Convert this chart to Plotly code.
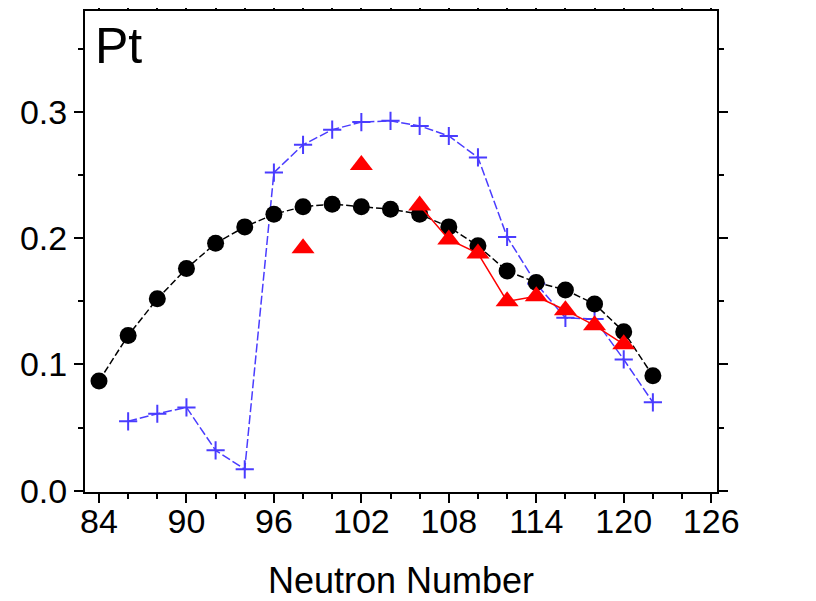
import plotly.graph_objects as go

neutrons = [84, 86, 88, 90, 92, 94, 96, 98, 100, 102, 104, 106, 108, 110, 112, 114, 116, 118, 120, 122]

black_vals = [0.087, 0.123, 0.152, 0.176, 0.196, 0.209, 0.219, 0.225, 0.227, 0.225,
              0.223, 0.219, 0.209, 0.194, 0.174, 0.165, 0.159, 0.148, 0.126, 0.091]

blue_vals = [None, 0.055, 0.061, 0.066, 0.032, 0.017, 0.252, 0.274, 0.286, 0.292,
             0.293, 0.289, 0.281, 0.264, 0.201, 0.164, 0.137, 0.136, 0.104, 0.070]

red_vals = [None, None, None, None, None, None, None, 0.192, None, 0.258,
            None, 0.226, 0.199, 0.188, 0.150, 0.154, 0.143, 0.131, 0.116, None]

x_ticks = [84, 90, 96, 102, 108, 114, 120, 126]
y_ticks = [0.0, 0.1, 0.2, 0.3]
y_tick_text = ["0.0", "0.1", "0.2", "0.3"]

FONT = "Liberation Sans, Arial, sans-serif"

fig = go.Figure()

fig.add_trace(go.Scatter(
    x=neutrons, y=blue_vals, mode="lines+markers",
    line=dict(color="#4a3cff", width=1.5, dash="9px,3px"),
    marker=dict(symbol="cross-thin", size=13, line=dict(color="#4a3cff", width=2)),
    connectgaps=False, showlegend=False))

fig.add_trace(go.Scatter(
    x=neutrons, y=black_vals, mode="lines+markers",
    line=dict(color="black", width=1.5, dash="7px,3px"),
    marker=dict(symbol="circle", size=17, color="black"),
    showlegend=False))

fig.add_trace(go.Scatter(
    x=neutrons, y=red_vals, mode="lines+markers",
    line=dict(color="#ff0000", width=1.5),
    marker=dict(symbol="triangle-up", size=20, color="#ff0000"),
    connectgaps=False, showlegend=False))

axis_common = dict(
    showline=True, linecolor="black", linewidth=2, mirror="allticks",
    ticks="outside", tickcolor="black", tickwidth=1.5, ticklen=9,
    showgrid=False, zeroline=False, automargin=False,
    tickfont=dict(family=FONT, size=34, color="black"),
)

fig.update_xaxes(
    **axis_common,
    range=[83.04, 126.4],
    tickvals=x_ticks,
    ticktext=[str(v) for v in x_ticks],
    ticklabelstandoff=-11,
    minor=dict(dtick=2, tick0=84, ticks="outside", ticklen=5, tickwidth=1.5, tickcolor="black"),
    title=dict(text="Neutron Number", font=dict(family=FONT, size=36, color="black"), standoff=39),
)

fig.update_yaxes(
    **axis_common,
    range=[-0.001, 0.38],
    tickvals=y_ticks,
    ticktext=y_tick_text,
    minor=dict(dtick=0.05, tick0=0, ticks="outside", ticklen=5, tickwidth=1.5, tickcolor="black"),
)

fig.add_annotation(
    x=0.012, y=0.99, xref="paper", yref="paper", xanchor="left", yanchor="top",
    text="Pt", showarrow=False, font=dict(family=FONT, size=50, color="black"))

fig.update_layout(
    width=808, height=593,
    margin=dict(l=77, r=99, t=3, b=109),
    plot_bgcolor="white", paper_bgcolor="white",
)

fig.write_html("out.html")
